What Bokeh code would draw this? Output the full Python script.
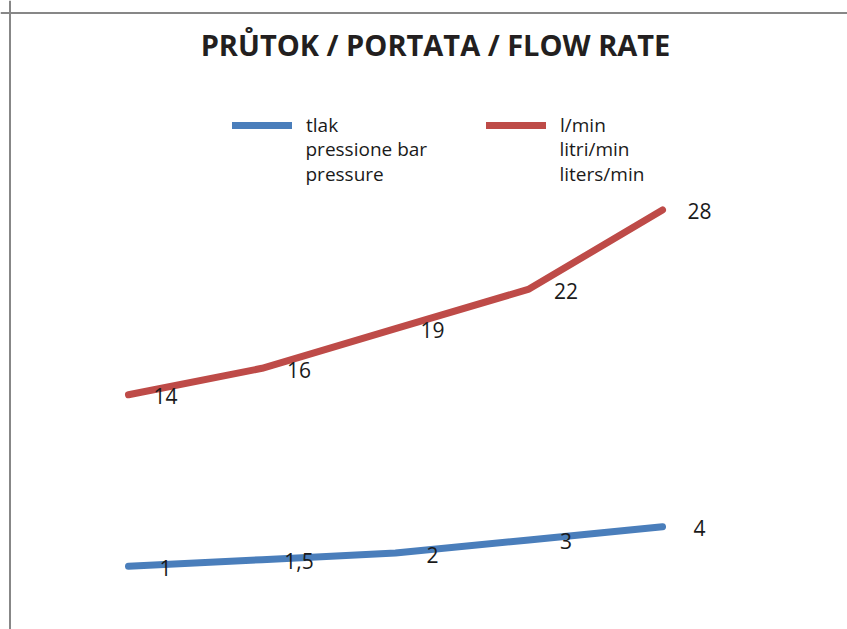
from bokeh.plotting import figure
from bokeh.models import Range1d, Label, Legend, LegendItem, Span
from bokeh.core.properties import value
from bokeh.embed import file_html
from bokeh.resources import INLINE

# ---- data ----
title_text = "PRŮTOK / PORTATA / FLOW RATE"
pressure_bar = [1, 1.5, 2, 3, 4]
pressure_labels = ["1", "1,5", "2", "3", "4"]
flow_lpm = [14, 16, 19, 22, 28]
flow_labels = ["14", "16", "19", "22", "28"]
pressure_legend = ["tlak", "pressione bar", "pressure"]
flow_legend = ["l/min", "litri/min", "liters/min"]

idx = list(range(len(flow_lpm)))

# ---- layout ----
W, H = 847, 629
X0_PX, DX_PX = 128.0, 133.5   # canvas px of first point, px per step
Y0_PX, DY_PX = 579.0, 13.2    # canvas px (from top) of value 0, px per unit
xr = Range1d(-X0_PX / DX_PX, (W - X0_PX) / DX_PX)
yr = Range1d((Y0_PX - H) / DY_PX, Y0_PX / DY_PX)

FONT = "Open Sans"
BLUE = "#4A7EBB"
RED = "#BE4B48"
FRAME = "#878787"
TXT = "#1a1a1a"

p = figure(width=W, height=H, x_range=xr, y_range=yr,
           output_backend="svg", toolbar_location=None,
           x_axis_location=None, y_axis_location=None,
           min_border=0, min_border_left=0, min_border_right=0,
           min_border_top=0, min_border_bottom=0)
p.outline_line_color = None
p.grid.visible = False
p.background_fill_color = "white"
p.border_fill_color = "white"

# frame lines (top and left only, the rest is cut off)
p.add_layout(Span(location=xr.start + 9.5 / DX_PX, dimension="height",
                  line_color=FRAME, line_width=2))
p.add_layout(Span(location=yr.end - 12.5 / DY_PX, dimension="width",
                  line_color=FRAME, line_width=2))

r_blue = p.line(idx, pressure_bar, line_color=BLUE, line_width=7,
                line_cap="round", line_join="round")
r_red = p.line(idx, flow_lpm, line_color=RED, line_width=7,
               line_cap="round", line_join="round")

for vals, labs in ((pressure_bar, pressure_labels), (flow_lpm, flow_labels)):
    p.text(idx, vals, text=labs, x_offset=37, y_offset=1.5,
           text_align="center", text_baseline="middle",
           text_font=value(FONT), text_font_size="21px", text_color=TXT)

# title
p.add_layout(Label(x=435, y=585, x_units="screen", y_units="screen",
                   text=title_text, text_align="center", text_baseline="middle",
                   text_font=FONT, text_font_style="bold",
                   text_font_size="29px", text_color="#231f20"))

# legends
def add_legend(renderer, lines, gx):
    lg = Legend(items=[LegendItem(label=lines[0], renderers=[renderer])],
                location=(gx, 491), orientation="vertical",
                glyph_width=60, glyph_height=20, label_height=20,
                label_standoff=14, padding=0, margin=0, spacing=0,
                border_line_color=None, background_fill_alpha=0,
                label_text_font=FONT, label_text_font_size="19px",
                label_text_color=TXT, label_text_baseline="middle")
    p.add_layout(lg, "center")
    tx = gx + 60 + 13
    for k, t in enumerate(lines[1:], start=1):
        p.add_layout(Label(x=tx, y=506 - 25 * k, x_units="screen", y_units="screen",
                           text=t, text_align="left", text_baseline="middle",
                           text_font=FONT, text_font_size="19px", text_color=TXT))

add_legend(r_blue, pressure_legend, 232)
add_legend(r_red, flow_legend, 486)

open("out.html", "w").write(file_html(p, INLINE))
